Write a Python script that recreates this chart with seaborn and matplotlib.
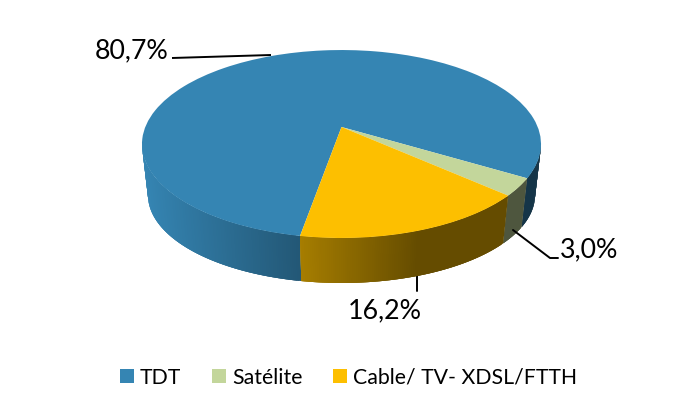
import numpy as np
import matplotlib
matplotlib.use("Agg")
import matplotlib.pyplot as plt
import seaborn as sns
from matplotlib.collections import PolyCollection
from matplotlib.transforms import Transform

categories = ["TDT", "Satélite", "Cable/ TV- XDSL/FTTH"]
values = [80.7, 3.0, 16.2]
colors = ["#3585B3", "#C3D69B", "#FDBF00"]
labels = ["80,7%", "3,0%", "16,2%"]

sns.set_theme(style="white")
plt.rcParams["font.family"] = ["Lato", "DejaVu Sans"]

W, H = 687, 411
fig = plt.figure(figsize=(W / 100, H / 100), dpi=100)
ax = fig.add_axes([0, 0, 1, 1])

CX, APEX_Y, A, B, K = 341.5, 127.0, 196.2, 90.9, 0.181
TOP_CY, BOT_CY, BOT_SX, BOT_SY = 144.0, 195.0, 0.97, 0.936


def project(pts):
    pts = np.asarray(pts, float)
    w = 1 + K * pts[:, 1]
    return np.column_stack([CX + A * pts[:, 0] / w, APEX_Y - B * pts[:, 1] / w])


class Perspective(Transform):
    input_dims = 2
    output_dims = 2
    is_separable = False
    has_inverse = False

    def transform_non_affine(self, values):
        return project(values)


START = 260
wedges, _ = ax.pie(values, colors=colors, startangle=START, counterclock=False,
                   wedgeprops=dict(linewidth=0))
ax.set_aspect("auto")
ax.set_xlim(0, W)
ax.set_ylim(H, 0)
ax.axis("off")

persp = Perspective()
for w in wedges:
    w.set_transform(persp + ax.transData)
    w.set_zorder(3)


def shade(x):
    return np.clip(1 - (x - 142) * 0.00217, 0.40, 1.0)


# rim of the pie: overlapping strips, only where the rim faces the viewer
total = sum(values)
polys, fcs = [], []
ang0 = START
for val, col in zip(values, colors):
    sweep = 360 * val / total
    n = max(int(sweep * 2), 4)
    th = np.radians(np.linspace(ang0, ang0 - sweep, n + 1))
    top = project(np.column_stack([np.cos(th), np.sin(th)]))
    bot = np.column_stack([CX + BOT_SX * (top[:, 0] - CX),
                           BOT_CY + BOT_SY * (top[:, 1] - TOP_CY)])
    rgb = np.array(matplotlib.colors.to_rgb(col))
    for i in range(n):
        if top[i, 1] < TOP_CY - 1 and top[i + 1, 1] < TOP_CY - 1:
            continue
        j = min(i + 3, n)
        polys.append(np.vstack([top[i:j + 1], bot[i:j + 1][::-1]]))
        fcs.append(tuple(rgb * shade(0.5 * (top[i, 0] + top[i + 1, 0]))))
    ang0 -= sweep
side = PolyCollection(polys, facecolors=fcs, edgecolors="none", linewidths=0, zorder=2)
ax.add_collection(side)

# leader lines and value labels
ax.plot([172, 271], [58, 55], color="black", lw=1.4, zorder=4, solid_capstyle="butt")
ax.plot([513, 550, 558], [230, 258, 258], color="black", lw=1.4, zorder=4)
ax.plot([417, 417], [275, 291], color="black", lw=1.4, zorder=1)
label_size = 19.3
ax.text(132, 51, labels[0], ha="center", va="center", fontsize=label_size, color="black")
ax.text(589.5, 250, labels[1], ha="center", va="center", fontsize=label_size, color="black")
ax.text(384.5, 311, labels[2], ha="center", va="center", fontsize=label_size, color="black")

leg_size = 15.3
px = leg_size * 100 / 72
leg = fig.legend(wedges, categories, loc="center", ncol=3, frameon=False,
                 bbox_to_anchor=(348.5 / W, 1 - 377.5 / H), fontsize=leg_size,
                 handlelength=14 / px, handleheight=14 / px,
                 handletextpad=6 / px, columnspacing=31 / px, labelcolor="black")

fig.savefig("out.png", dpi=100, facecolor="white")
